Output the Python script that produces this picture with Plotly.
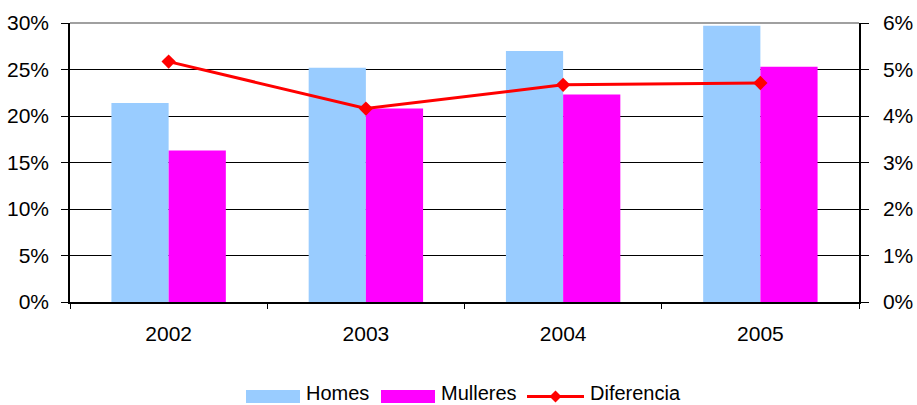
import plotly.graph_objects as go

years = ["2002", "2003", "2004", "2005"]
homes = [0.214, 0.252, 0.270, 0.297]
mulleres = [0.163, 0.208, 0.223, 0.253]
diferencia = [0.0517, 0.0416, 0.0467, 0.0471]

left_ticks = [0, 0.05, 0.10, 0.15, 0.20, 0.25, 0.30]
right_ticks = [0, 0.01, 0.02, 0.03, 0.04, 0.05, 0.06]

FONT = "Liberation Sans, Arial, sans-serif"
W, H = 917, 405
ML, MR, MT, MB = 70, 58, 23, 103
PW, PH = W - ML - MR, H - MT - MB


def px_x(p):
    return (p - ML) / PW


def px_y(p):
    return (H - MB - p) / PH


fig = go.Figure()
fig.add_trace(go.Bar(x=years, y=homes, name="Homes", marker_color="#99CCFF",
                     marker_line_width=0))
fig.add_trace(go.Bar(x=years, y=mulleres, name="Mulleres", marker_color="#FF00FF",
                     marker_line_width=0))
fig.add_trace(go.Scatter(x=years, y=diferencia, name="Diferencia", yaxis="y2",
                         mode="lines+markers",
                         line=dict(color="#FF0000", width=3),
                         marker=dict(symbol="diamond", size=11, color="#FF0000")))

shapes = [dict(type="line", xref="paper", yref="paper", x0=0, x1=1, y0=1, y1=1,
               line=dict(color="#808080", width=1.5))]
annotations = []

# manual legend (Excel style)
legend_items = [
    ("Homes", "#99CCFF", "bar", 246, 300, 305),
    ("Mulleres", "#FF00FF", "bar", 381, 435, 440),
    ("Diferencia", "#FF0000", "line", 527, 584, 589),
]
ly = 396.5
for name, col, kind, sx0, sx1, tx in legend_items:
    if kind == "bar":
        shapes.append(dict(type="rect", xref="paper", yref="paper",
                           x0=px_x(sx0), x1=px_x(sx1), y0=px_y(ly + 6.5), y1=px_y(ly - 6.5),
                           fillcolor=col, line=dict(width=0)))
    else:
        shapes.append(dict(type="line", xref="paper", yref="paper",
                           x0=px_x(sx0), x1=px_x(sx1), y0=px_y(ly), y1=px_y(ly),
                           line=dict(color=col, width=3)))
        cx = (sx0 + sx1) / 2
        d = 6
        path = "M {} {} L {} {} L {} {} L {} {} Z".format(
            px_x(cx - d), px_y(ly), px_x(cx), px_y(ly - d),
            px_x(cx + d), px_y(ly), px_x(cx), px_y(ly + d))
        shapes.append(dict(type="path", xref="paper", yref="paper", path=path,
                           fillcolor=col, line=dict(width=0)))
    annotations.append(dict(text=name, xref="paper", yref="paper", x=px_x(tx), y=px_y(404.5),
                            xanchor="left", yanchor="bottom", showarrow=False, borderpad=0,
                            font=dict(size=20, family=FONT, color="black")))

fig.update_layout(
    width=W, height=H,
    margin=dict(l=ML, r=MR, t=MT, b=MB),
    paper_bgcolor="white", plot_bgcolor="white",
    font=dict(family=FONT, size=20, color="black"),
    barmode="group", bargap=0.42, bargroupgap=0,
    showlegend=False,
    xaxis=dict(type="category", showline=True, linecolor="black", linewidth=1.5,
               ticks="outside", tickson="boundaries", ticklen=5, tickcolor="black",
               showgrid=False, ticklabelstandoff=12, tickfont=dict(size=21),
               automargin=False),
    yaxis=dict(range=[0, 0.30], tickvals=left_ticks, tickformat=".0%",
               showline=True, linecolor="black", linewidth=1.5,
               ticks="outside", ticklen=7, tickcolor="black",
               showgrid=True, gridcolor="black", gridwidth=1.2,
               zeroline=False, ticklabelstandoff=8, tickfont=dict(size=21),
               automargin=False),
    yaxis2=dict(range=[0, 0.06], tickvals=right_ticks, tickformat=".0%",
                overlaying="y", side="right",
                showline=True, linecolor="black", linewidth=1.5,
                ticks="outside", ticklen=8, tickcolor="black",
                showgrid=False, zeroline=False, ticklabelstandoff=10,
                tickfont=dict(size=21), automargin=False),
    shapes=shapes,
    annotations=annotations,
)

fig.write_html("out.html", config={"displayModeBar": False},
               post_script="document.body.style.margin='0';")
